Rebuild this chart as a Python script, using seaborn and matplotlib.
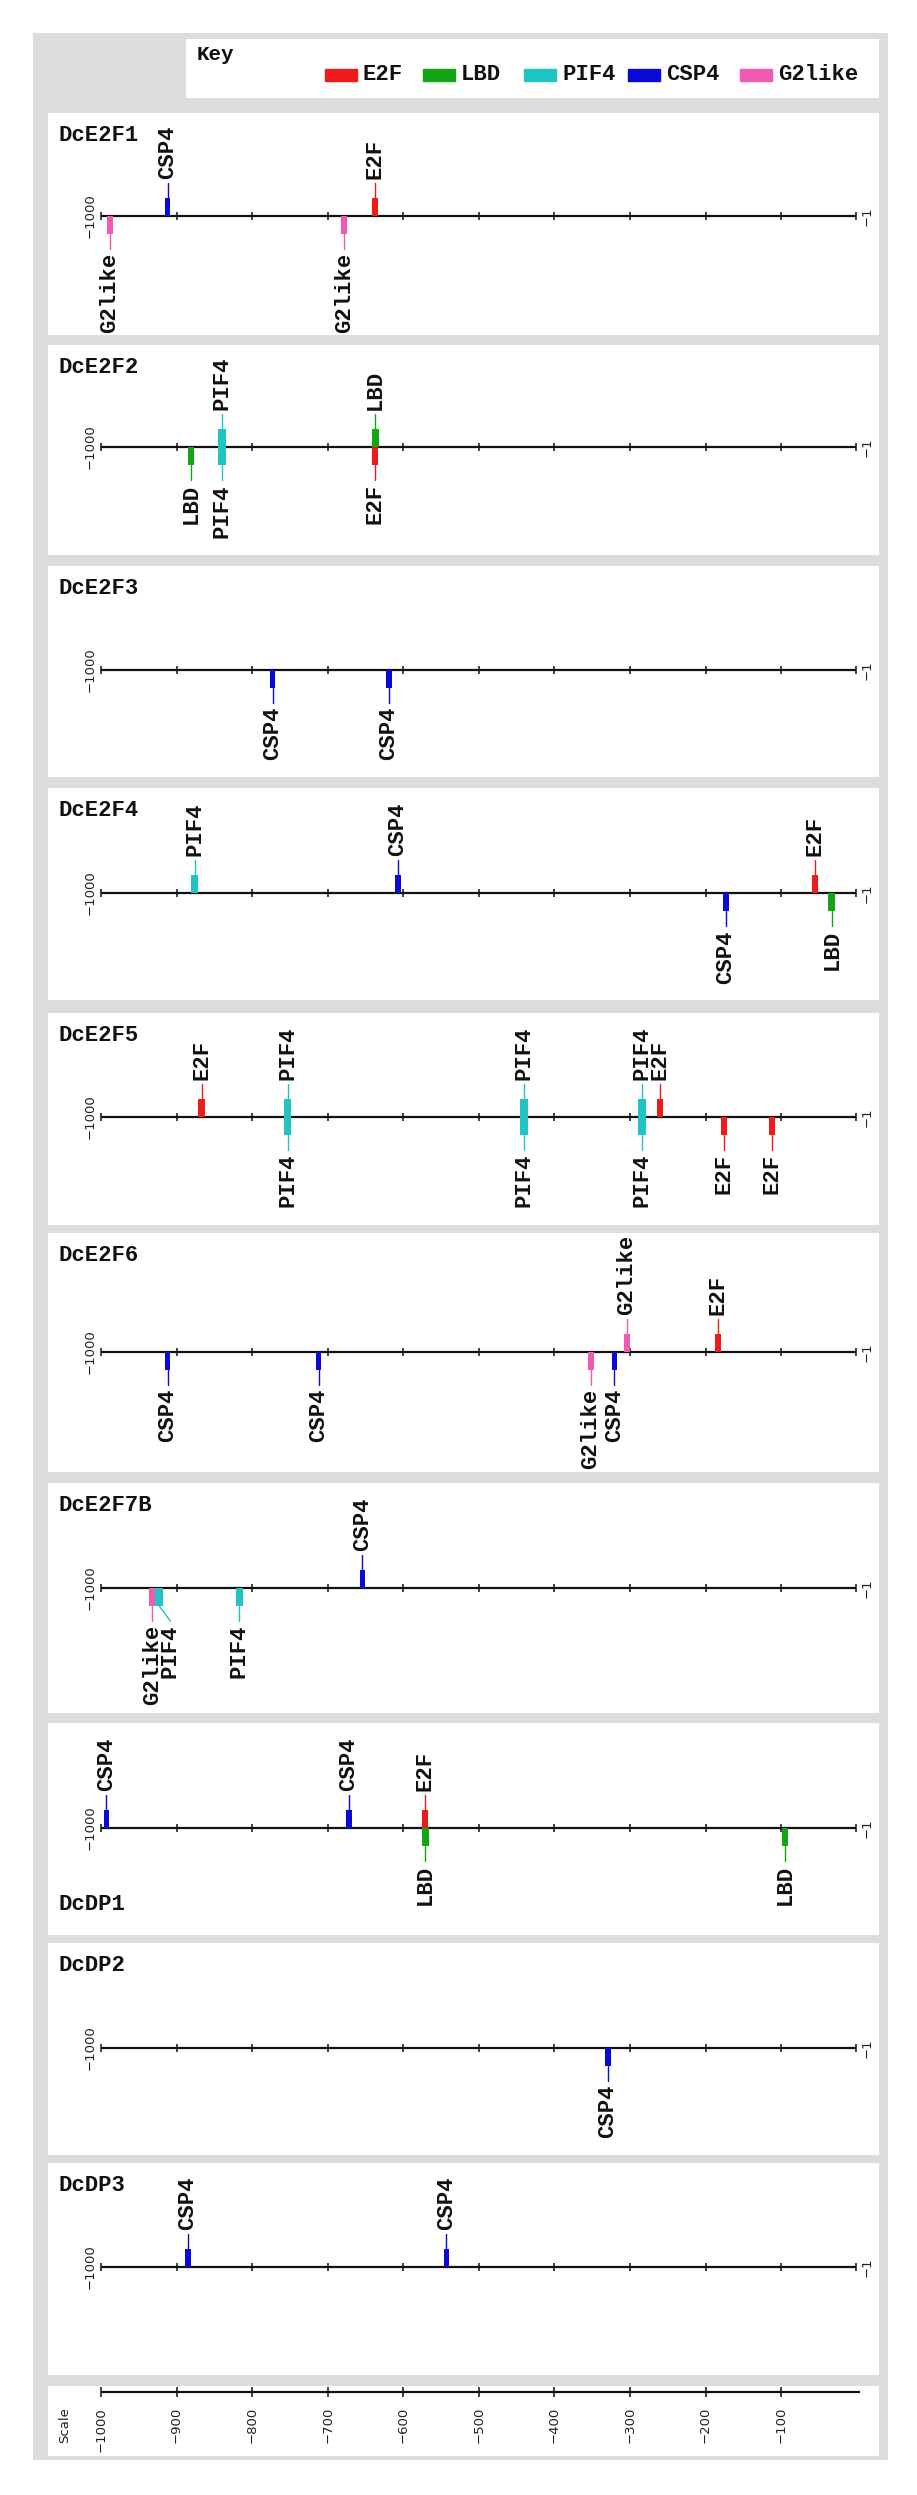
import numpy as np
import pandas as pd
import matplotlib
matplotlib.use("Agg")
import matplotlib.pyplot as plt
from matplotlib.patches import Rectangle
import seaborn as sns

# ---------------- data ----------------
genes = ["DcE2F1", "DcE2F2", "DcE2F3", "DcE2F4", "DcE2F5",
         "DcE2F6", "DcE2F7B", "DcDP1", "DcDP2", "DcDP3"]
motifs = ["E2F", "LBD", "PIF4", "CSP4", "G2like"]

site_gene = (["DcE2F1"] * 4 + ["DcE2F2"] * 5 + ["DcE2F3"] * 2 + ["DcE2F4"] * 5 +
             ["DcE2F5"] * 10 + ["DcE2F6"] * 6 + ["DcE2F7B"] * 4 + ["DcDP1"] * 5 +
             ["DcDP2"] * 1 + ["DcDP3"] * 2)
site_motif = ["CSP4", "E2F", "G2like", "G2like",
              "LBD", "PIF4", "PIF4", "LBD", "E2F",
              "CSP4", "CSP4",
              "PIF4", "CSP4", "CSP4", "E2F", "LBD",
              "E2F", "PIF4", "PIF4", "PIF4", "PIF4", "PIF4", "PIF4", "E2F", "E2F", "E2F",
              "CSP4", "CSP4", "G2like", "CSP4", "G2like", "E2F",
              "G2like", "PIF4", "PIF4", "CSP4",
              "CSP4", "CSP4", "E2F", "LBD", "LBD",
              "CSP4",
              "CSP4", "CSP4"]
site_pos = [-912, -637, -988, -678,
            -881, -840, -840, -637, -637,
            -773, -619,
            -876, -607, -173, -55, -33,
            -867, -753, -753, -440, -440, -284, -284, -260, -176, -112,
            -912, -712, -352, -321, -304, -184,
            -932, -923, -817, -654,
            -993, -672, -571, -571, -95,
            -329,
            -885, -543]
site_strand = ["+", "+", "-", "-",
               "-", "+", "-", "+", "-",
               "-", "-",
               "+", "+", "-", "+", "-",
               "+", "+", "-", "+", "-", "+", "-", "+", "-", "-",
               "-", "-", "-", "-", "+", "+",
               "-", "-", "-", "+",
               "+", "+", "+", "-", "-",
               "-",
               "+", "+"]
scale_ticks = [-1000, -900, -800, -700, -600, -500, -400, -300, -200, -100]
scale_labels = ["\u22121000", "\u2212900", "\u2212800", "\u2212700", "\u2212600",
                "\u2212500", "\u2212400", "\u2212300", "\u2212200", "\u2212100"]

sites = pd.DataFrame({"gene": site_gene, "motif": site_motif,
                      "pos": site_pos, "strand": site_strand})

# ---------------- style ----------------
sns.set_theme(style="white")
plt.rcParams["font.family"] = ["Liberation Mono", "DejaVu Sans"]

palette = dict(zip(motifs, sns.color_palette(
    ["#ec1c1c", "#14a514", "#22c3c3", "#0a0ad8", "#ef5bb0"])))
box_w = {"E2F": 8, "LBD": 9, "PIF4": 10, "CSP4": 7, "G2like": 8}  # bp
GREY = "#dcdcdc"

W, H = 917, 2495
fig = plt.figure(figsize=(W / 100, H / 100), dpi=100)
fig.patch.set_facecolor("white")


def px_axes(x0, y0, x1, y1, z=1):
    return fig.add_axes([x0 / W, 1 - y1 / H, (x1 - x0) / W, (y1 - y0) / H], zorder=z)


def blank(ax):
    ax.set_facecolor("white")
    ax.set_xticks([]); ax.set_yticks([])
    sns.despine(ax=ax, left=True, bottom=True)


# outer grey frame
bg = px_axes(33, 33, 888, 2460, z=0)
bg.set_axis_off()
bg.add_patch(Rectangle((0, 0), 1, 1, transform=bg.transAxes, color=GREY, zorder=0))

# key box
kx = px_axes(186, 39, 879, 98, z=2)
kx.set_xlim(186, 879)
kx.set_ylim(98, 39)
blank(kx)
kx.text(197, 54, "Key", ha="left", va="center", fontsize=15, fontweight="bold", color="#111")
sw_x = [325, 423, 524, 628, 740]
for m, x0 in zip(motifs, sw_x):
    kx.add_patch(Rectangle((x0, 69), 32, 12, color=palette[m]))
    kx.text(x0 + 38, 75, m, ha="left", va="center", fontsize=16, fontweight="bold", color="#111")

# panel geometry (pixels): top, bottom, axis line y
panel_geom = [(113, 335, 216), (345, 555, 447), (566, 777, 670), (788, 1000, 893),
              (1013, 1225, 1117), (1233, 1472, 1352), (1483, 1713, 1588),
              (1723, 1935, 1828), (1943, 2155, 2048), (2163, 2375, 2267)]
PX0, PX1 = 48, 879
k = 755 / 999.0                      # pixels per bp
xmin = -1000 - (101 - PX0) / k
xmax = xmin + (PX1 - PX0) / k
BOX_H, STEM, LAB = 18, 33, 37
MIN_SEP = 18 / k

for gene, (top, bot, ay) in zip(genes, panel_geom):
    ax = px_axes(PX0, top, PX1, bot, z=2)
    hp = bot - top
    a = ay - top
    ax.set_xlim(xmin, xmax)
    ax.set_ylim(-(hp - a), a)
    blank(ax)

    # backbone line and ticks
    ax.plot([-1000, -1], [0, 0], color="#111", lw=1.6, zorder=2, solid_capstyle="butt")
    ax.vlines(scale_ticks + [-1], -4, 4, color="#111", lw=1.1, zorder=2)
    ax.text(-1000 - 4 / k, 0, "\u22121000", rotation=90, ha="right", va="center",
            fontsize=9.5, family="DejaVu Sans", color="#222")
    ax.text(-1 + 5 / k, 0, "\u22121", rotation=90, ha="left", va="center",
            fontsize=9.5, family="DejaVu Sans", color="#222")

    # gene title
    if gene == "DcDP1":
        ax.annotate(gene, xy=(10 / (PX1 - PX0), 20 / hp), xycoords="axes fraction",
                    ha="left", va="bottom", fontsize=16, fontweight="bold", color="#111")
    else:
        ax.annotate(gene, xy=(10 / (PX1 - PX0), 1 - 12 / hp), xycoords="axes fraction",
                    ha="left", va="top", fontsize=16, fontweight="bold", color="#111")

    g = sites[sites.gene == gene]
    for strand, sgn in (("+", 1), ("-", -1)):
        s = g[g.strand == strand].sort_values("pos")
        prev = -np.inf
        for _, r in s.iterrows():
            col = palette[r.motif]
            lx = max(r.pos, prev + MIN_SEP)
            prev = lx
            ax.bar(r.pos, sgn * BOX_H, width=box_w[r.motif], bottom=0,
                   color=col, zorder=3, linewidth=0)
            ax.plot([r.pos, lx], [sgn * BOX_H, sgn * STEM], color=col, lw=1.0, zorder=3)
            ax.text(lx, sgn * LAB, r.motif, rotation=90, ha="center",
                    va="bottom" if sgn > 0 else "top",
                    fontsize=16, fontweight="bold", color="#111")

# scale panel
sx = px_axes(PX0, 2386, PX1, 2456, z=2)
sx.set_xlim(xmin, xmax)
sx.set_ylim(-64, 6)
blank(sx)
sx.plot([-1000, 4], [0, 0], color="#111", lw=1.6, solid_capstyle="butt")
sx.vlines(scale_ticks, -5, 5, color="#111", lw=1.1)
for t, lab in zip(scale_ticks, scale_labels):
    sx.text(t, -15, lab, rotation=90, ha="center", va="top", fontsize=9.5,
            family="DejaVu Sans", color="#222")
sx.text(-1000 - 36 / k, -15, "Scale", rotation=90, ha="center", va="top", fontsize=9.5,
        family="DejaVu Sans", color="#222")

fig.savefig("out.png", dpi=100)
